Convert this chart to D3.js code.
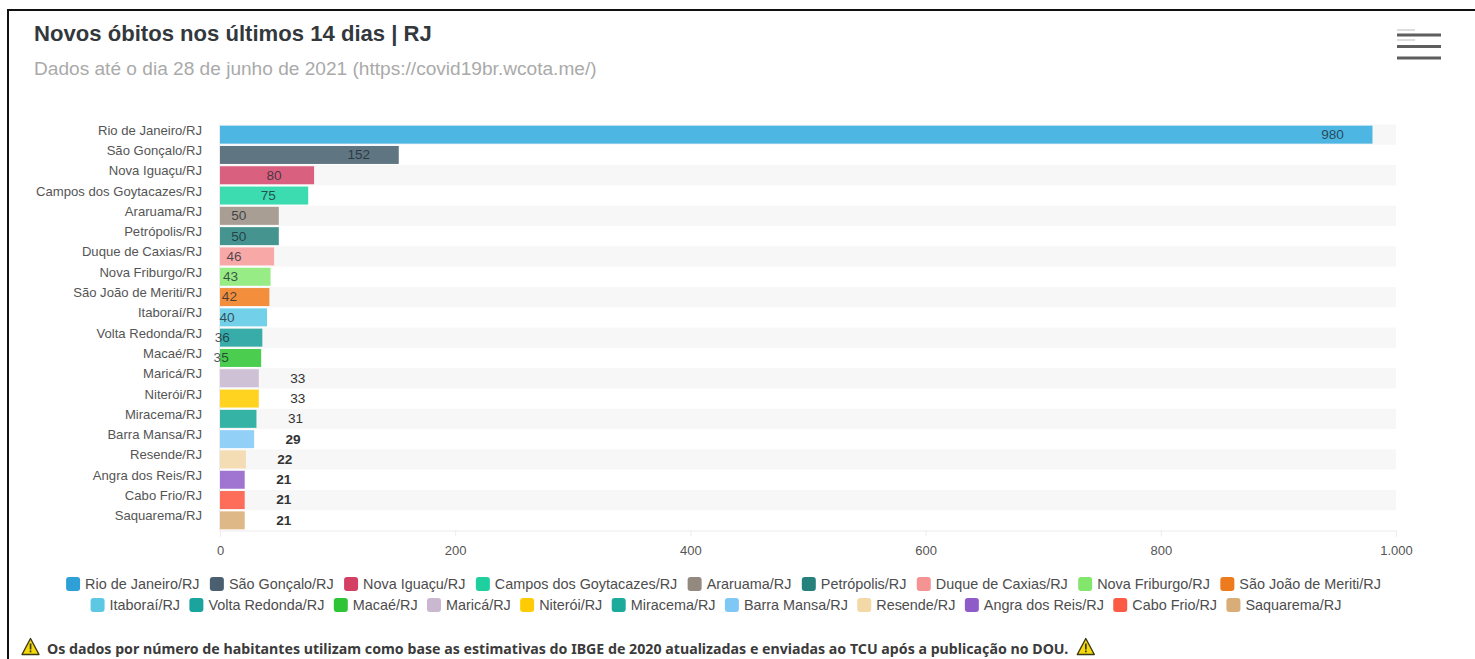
<!DOCTYPE html>
<html><head><meta charset="utf-8"><style>
html,body{margin:0;padding:0;background:#fff;overflow:hidden}
svg{display:block}
text{font-family:"Liberation Sans",Arial,sans-serif}
</style></head><body>
<svg id="c" width="1475" height="659"></svg>
<script src="https://cdn.jsdelivr.net/npm/d3@7/dist/d3.min.js"></script>
<script>
const categories=["Rio de Janeiro/RJ","São Gonçalo/RJ","Nova Iguaçu/RJ","Campos dos Goytacazes/RJ","Araruama/RJ","Petrópolis/RJ","Duque de Caxias/RJ","Nova Friburgo/RJ","São João de Meriti/RJ","Itaboraí/RJ","Volta Redonda/RJ","Macaé/RJ","Maricá/RJ","Niterói/RJ","Miracema/RJ","Barra Mansa/RJ","Resende/RJ","Angra dos Reis/RJ","Cabo Frio/RJ","Saquarema/RJ"];
const values=[980,152,80,75,50,50,46,43,42,40,36,35,33,33,31,29,22,21,21,21];
const barColors=["#4db6e2","#5f7582","#d9607f","#3ddbb0","#a89e94","#45948f","#f9a8a8","#97ec85","#f28e3c","#72d0e8","#38aca8","#4bce4f","#cfc1d5","#ffd320","#35b3a5","#92d0f7","#f4dcb4","#a074d1","#fd6d5a","#deb887"];
const legendColors=["#2f9fd8","#4a6070","#d43f64","#1fcf9e","#94897e","#26807c","#f59393","#82e56c","#ee7a1e","#5cc8e4","#1ba39e","#2fc436","#c9b8d0","#ffcb05","#1cab9b","#7fc7f5","#f3d8a8","#8e5bc9","#fb5a44","#d9ad78"];
const xTicks=[0,200,400,600,800,1000];
const tickLabels=["0","200","400","600","800","1.000"];
const legendRows=[categories.slice(0,9).map((c,i)=>i),categories.slice(9).map((c,i)=>i+9)];

const svg=d3.select("#c");
const x=d3.scaleLinear().domain([0,1000]).range([220,1396]);
const y=d3.scaleBand().domain(categories).range([124.5,530.5]).paddingInner(0).paddingOuter(0);

// frame
svg.append("rect").attr("x",8).attr("y",9).attr("width",1467).attr("height",2).attr("fill","#111");
svg.append("rect").attr("x",7).attr("y",9).attr("width",2).attr("height",650).attr("fill","#111");

// titles
svg.append("text").attr("x",34).attr("y",41).attr("font-size",22.1).attr("font-weight",700).attr("fill","#33383c").text("Novos óbitos nos últimos 14 dias | RJ");
svg.append("text").attr("x",34).attr("y",75).attr("font-size",19.1).attr("fill","#aaaaaa").text("Dados até o dia 28 de junho de 2021 (https://covid19br.wcota.me/)");

// menu icon
[35,46.5,58].forEach(v=>svg.append("rect").attr("x",1397).attr("y",v-1.5).attr("width",44).attr("height",3).attr("fill","#5e5e5e"));
[30,40].forEach(v=>svg.append("rect").attr("x",1397).attr("y",v-.5).attr("width",18).attr("height",1).attr("fill","#bcbcbc"));

// stripes
svg.append("g").selectAll("rect").data(categories.filter((c,i)=>i%2===0)).join("rect")
 .attr("x",x(0)).attr("width",x(1000)-x(0)).attr("y",d=>y(d)).attr("height",y.step()).attr("fill","#f7f7f7");

// axis
const ax=svg.append("g").attr("transform","translate(0,530.5)").call(d3.axisBottom(x).tickValues(xTicks).tickFormat((d,i)=>tickLabels[i]).tickSize(6).tickPadding(9));
ax.select(".domain").attr("stroke","#ececec");
ax.selectAll("line").attr("stroke","#ececec");
ax.selectAll("text").attr("font-size",13).attr("fill","#555").attr("font-family",'"Liberation Sans",Arial,sans-serif');
svg.append("line").attr("x1",x(0)-.5).attr("x2",x(0)-.5).attr("y1",124.5).attr("y2",530.5).attr("stroke","#ececec");

// category labels
const ay=svg.append("g").attr("transform",`translate(${x(0)},0)`).call(d3.axisLeft(y).tickSize(0).tickPadding(18));
ay.select(".domain").remove();
ay.selectAll("text").attr("font-size",13.1).attr("fill","#555").attr("font-family",'"Liberation Sans",Arial,sans-serif').attr("dy","0");

// bars
const barH=18;
svg.append("g").selectAll("rect").data(categories).join("rect")
 .attr("x",x(0)).attr("y",d=>y(d)+(y.step()-barH)/2).attr("height",barH)
 .attr("width",(d,i)=>x(values[i])-x(0)).attr("fill",(d,i)=>barColors[i]);

// value labels
svg.append("g").selectAll("text").data(categories).join("text")
 .attr("x",(d,i)=>x(values[i])+(values[i]>=35?-40:39))
 .attr("y",d=>y(d)+y.step()/2+4.4)
 .attr("text-anchor","middle").attr("font-size",13.6)
 .attr("font-weight",(d,i)=>values[i]>=35?400:(values[i]<30?700:400))
 .attr("fill",(d,i)=>values[i]>=35?"#1c2a33":"#333")
 .attr("fill-opacity",(d,i)=>values[i]>=35?.78:1)
 .text((d,i)=>values[i]);

// legend
const rowY=[584,605];
const rowGap=[10.4,9.4];
legendRows.forEach((row,r)=>{
  const g=svg.append("g");
  let cx=0;
  row.forEach(i=>{
    const it=g.append("g").attr("transform",`translate(${cx},0)`);
    it.append("rect").attr("x",0).attr("y",rowY[r]-7).attr("width",14).attr("height",14).attr("rx",3).attr("fill",legendColors[i]);
    const t=it.append("text").attr("x",19).attr("y",rowY[r]+4.5).attr("font-size",14.4).attr("fill","#4d4d4d").text(categories[i]);
    cx+=19+t.node().getComputedTextLength()+rowGap[r];
  });
  cx-=rowGap[r];
  g.attr("transform",`translate(${(66+1381)/2-cx/2-(r?7.5:0)},0)`);
});

// footer
const tri=svg.append("g").attr("transform","translate(22,637.5)");
tri.append("path").attr("d","M8.5 1 L17 17 L0 17 Z").attr("fill","#f5d90a").attr("stroke","#3d3a16").attr("stroke-width",1.4).attr("stroke-linejoin","round");
tri.append("rect").attr("x",7.7).attr("y",6).attr("width",1.7).attr("height",6).attr("fill","#3d3a16");
tri.append("rect").attr("x",7.7).attr("y",13).attr("width",1.7).attr("height",1.8).attr("fill","#3d3a16");
const ft=svg.append("text").attr("x",47).attr("y",654).attr("font-size",14.2).attr("font-weight",700).attr("fill","#3b3b3b").style("font-family",'"Noto Sans","Open Sans",sans-serif').text("Os dados por número de habitantes utilizam como base as estimativas do IBGE de 2020 atualizadas e enviadas ao TCU após a publicação no DOU.");
const tri2=svg.append("g").attr("transform",`translate(${47+ft.node().getComputedTextLength()+9},637.5)`);
tri2.html(tri.html());
</script>
</body></html>
